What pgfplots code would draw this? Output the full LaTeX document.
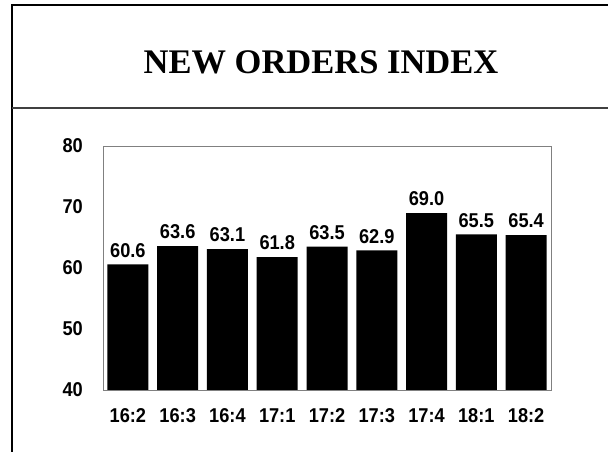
\documentclass[border=0pt]{standalone}
\usepackage{pgfplots}
\pgfplotsset{compat=1.18}
\usepackage{fontspec}
\setmainfont{Liberation Sans}
\newfontfamily\titlefont{Liberation Serif}
\newfontfamily\labfont[FakeStretch=0.91]{Liberation Sans}
\begin{document}
\begin{tikzpicture}[x=1pt,y=1pt]
\path[use as bounding box] (0,0) rectangle (608,452);
\draw[line width=2pt] (12,0) -- (12,447) -- (608,447);
\draw[line width=1.5pt, black!75] (12,344) -- (608,344);
\node[font=\titlefont\fontsize{34.5}{40}\selectfont\bfseries] at (321,390) {NEW ORDERS INDEX};
\begin{axis}[
  at={(103pt,62pt)}, anchor=south west,
  width=448pt, height=244pt, scale only axis,
  ybar, bar width=41pt,
  ymin=40, ymax=80, ytick={40,50,...,80},
  xmin=-0.5, xmax=8.5, xtick=data,
  xticklabels={16:2,16:3,16:4,17:1,17:2,17:3,17:4,18:1,18:2},
  major tick length=0pt,
  axis line style={black!50, line width=0.8pt},
  /pgf/number format/assume math mode=true,
  ticklabel style={font=\labfont\fontsize{20}{22}\selectfont\bfseries},
  yticklabel style={inner sep=0pt, xshift=-20pt},
  xticklabel style={inner sep=0pt, yshift=-18pt, text height=14.3pt, text depth=0pt},
  nodes near coords={\pgfmathprintnumber[fixed,fixed zerofill,precision=1]{\pgfplotspointmeta}},
  every node near coord/.append style={font=\labfont\fontsize{20}{22}\selectfont\bfseries, inner sep=0pt, yshift=7pt, black, text depth=0pt},
]
\addplot[fill=black, draw=none] coordinates {
(0,60.6) (1,63.6) (2,63.1) (3,61.8) (4,63.5) (5,62.9) (6,69.0) (7,65.5) (8,65.4)};
\end{axis}
\end{tikzpicture}
\end{document}
